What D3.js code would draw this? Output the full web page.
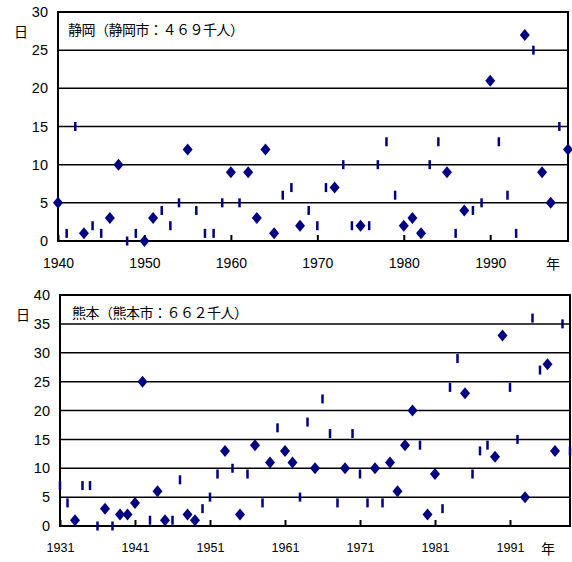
<!DOCTYPE html>
<html>
<head>
<meta charset="utf-8">
<script src="https://cdn.jsdelivr.net/npm/d3@7"></script>
<style>
  body { margin: 0; background: #fff; }
  svg text { font-family: "Liberation Sans", Arial, sans-serif; fill: #000; }
  .jp { font-family: "Noto Sans CJK JP", sans-serif; }
</style>
</head>
<body>
<svg id="chart" width="572" height="562"></svg>
<script>
// 静岡
var shizuokaTitle = "静岡（静岡市：４６９千人）";
var shizuokaDiamondYears  = [1940, 1943, 1946, 1947, 1950, 1951, 1955, 1960, 1962, 1963, 1964, 1965, 1968, 1972, 1975, 1980, 1981, 1982, 1985, 1987, 1990, 1994, 1996, 1997, 1999];
var shizuokaDiamondValues = [5, 1, 3, 10, 0, 3, 12, 9, 9, 3, 12, 1, 2, 7, 2, 2, 3, 1, 9, 4, 21, 27, 9, 5, 12];
var shizuokaDashYears  = [1941, 1942, 1944, 1945, 1948, 1949, 1952, 1953, 1954, 1956, 1957, 1958, 1959, 1961, 1966, 1967, 1969, 1970, 1971, 1973, 1974, 1976, 1977, 1978, 1979, 1983, 1984, 1986, 1988, 1989, 1991, 1992, 1993, 1995, 1998];
var shizuokaDashValues = [1, 15, 2, 1, 0, 1, 4, 2, 5, 4, 1, 1, 5, 5, 6, 7, 4, 2, 7, 10, 2, 2, 10, 13, 6, 10, 13, 1, 4, 5, 13, 6, 1, 25, 15];
var shizuokaXTicks = [1940, 1950, 1960, 1970, 1980, 1990];
var shizuokaYTicks = [0, 5, 10, 15, 20, 25, 30];

// 熊本
var kumamotoTitle = "熊本（熊本市：６６２千人）";
var kumamotoDiamondYears  = [1933, 1937, 1939, 1940, 1941, 1942, 1944, 1945, 1948, 1949, 1953, 1955, 1957, 1959, 1961, 1962, 1965, 1969, 1973, 1975, 1976, 1977, 1978, 1980, 1981, 1985, 1989, 1990, 1993, 1996, 1997];
var kumamotoDiamondValues = [1, 3, 2, 2, 4, 25, 6, 1, 2, 1, 13, 2, 14, 11, 13, 11, 10, 10, 10, 11, 6, 14, 20, 2, 9, 23, 12, 33, 5, 28, 13];
var kumamotoDashYears  = [1931, 1932, 1934, 1935, 1936, 1938, 1943, 1946, 1947, 1950, 1951, 1952, 1954, 1956, 1958, 1960, 1963, 1964, 1966, 1967, 1968, 1970, 1971, 1972, 1974, 1979, 1982, 1983, 1984, 1986, 1987, 1988, 1991, 1992, 1994, 1995, 1998, 1999];
var kumamotoDashValues = [7, 4, 7, 7, 0, 0, 1, 1, 8, 3, 5, 9, 10, 9, 4, 17, 5, 18, 22, 16, 4, 16, 9, 4, 4, 14, 3, 24, 29, 9, 13, 14, 24, 15, 36, 27, 35, 13];
var kumamotoXTicks = [1931, 1941, 1951, 1961, 1971, 1981, 1991];
var kumamotoYTicks = [0, 5, 10, 15, 20, 25, 30, 35, 40];

var svg = d3.select("#chart");
var navy = "#000080";

function drawPanel(opt) {
	var x = d3.scaleLinear().domain(opt.xDomain).range([opt.left, opt.right]);
	var y = d3.scaleLinear().domain(opt.yDomain).range([opt.bottom, opt.top]);
	var g = svg.append("g");

	// 横グリッド
	g.selectAll(".grid")
		.data(opt.yTicks)
		.enter().append("line")
		.attr("x1", opt.left).attr("x2", opt.right)
		.attr("y1", function(d) { return y(d); })
		.attr("y2", function(d) { return y(d); })
		.attr("stroke", "#000")
		.attr("stroke-width", 1.5);

	// 枠
	g.append("rect")
		.attr("x", opt.left).attr("y", opt.top)
		.attr("width", opt.right - opt.left)
		.attr("height", opt.bottom - opt.top)
		.attr("fill", "none")
		.attr("stroke", "#000")
		.attr("stroke-width", 2);

	// y軸
	var yAxis = g.append("g")
		.attr("transform", "translate(" + opt.left + ",0)")
		.call(d3.axisLeft(y).tickValues(opt.yTicks).tickSize(0).tickPadding(10));
	yAxis.select(".domain").remove();
	yAxis.selectAll("text").style("font-size", "14.5px").attr("font-family", null);

	// x軸（目盛は内向き）
	var xAxis = g.append("g")
		.attr("transform", "translate(0," + opt.bottom + ")")
		.call(d3.axisBottom(x).tickValues(opt.xTicks).tickFormat(d3.format("d")).tickSizeInner(-6).tickSizeOuter(0).tickPadding(17));
	xAxis.select(".domain").remove();
	xAxis.selectAll("line").attr("stroke", "#000").attr("stroke-width", 2);
	xAxis.selectAll("text").style("font-size", opt.xFont).attr("font-family", null);

	// ラベル
	g.append("text").attr("class", "jp")
		.attr("x", opt.left - 44).attr("y", opt.top + 25)
		.style("font-size", "14px")
		.text("日");
	g.append("text").attr("class", "jp")
		.attr("x", opt.yearX).attr("y", opt.bottom + 28)
		.style("font-size", "14px")
		.text("年");
	g.append("text").attr("class", "jp")
		.attr("x", opt.left + opt.titleDx).attr("y", opt.top + 23)
		.style("font-size", "14px")
		.style("letter-spacing", "-0.5px")
		.text(opt.title);

	// ダッシュ
	g.selectAll(".dash")
		.data(opt.dashYears)
		.enter().append("rect")
		.attr("x", function(d) { return x(d) - 1.25; })
		.attr("y", function(d, i) { return y(opt.dashValues[i]) - 4.5; })
		.attr("width", 2.5)
		.attr("height", 9)
		.attr("fill", navy);

	// ダイヤ
	g.selectAll(".diamond")
		.data(opt.diamondYears)
		.enter().append("path")
		.attr("d", function(d, i) {
			var cx = x(d), cy = y(opt.diamondValues[i]);
			return "M" + cx + "," + (cy - 6) + "L" + (cx + 5) + "," + cy + "L" + cx + "," + (cy + 6) + "L" + (cx - 5) + "," + cy + "Z";
		})
		.attr("fill", navy);
}

drawPanel({
	title: shizuokaTitle,
	xDomain: [1940, 1999], yDomain: [0, 30],
	left: 58, right: 568, top: 12, bottom: 241,
	xTicks: shizuokaXTicks, yTicks: shizuokaYTicks,
	xFont: "14px", yearX: 546, titleDx: 10,
	diamondYears: shizuokaDiamondYears, diamondValues: shizuokaDiamondValues,
	dashYears: shizuokaDashYears, dashValues: shizuokaDashValues
});

drawPanel({
	title: kumamotoTitle,
	xDomain: [1931, 1999], yDomain: [0, 40],
	left: 60, right: 570, top: 295, bottom: 526,
	xTicks: kumamotoXTicks, yTicks: kumamotoYTicks,
	xFont: "12.5px", yearX: 541, titleDx: 12,
	diamondYears: kumamotoDiamondYears, diamondValues: kumamotoDiamondValues,
	dashYears: kumamotoDashYears, dashValues: kumamotoDashValues
});
</script>
</body>
</html>
